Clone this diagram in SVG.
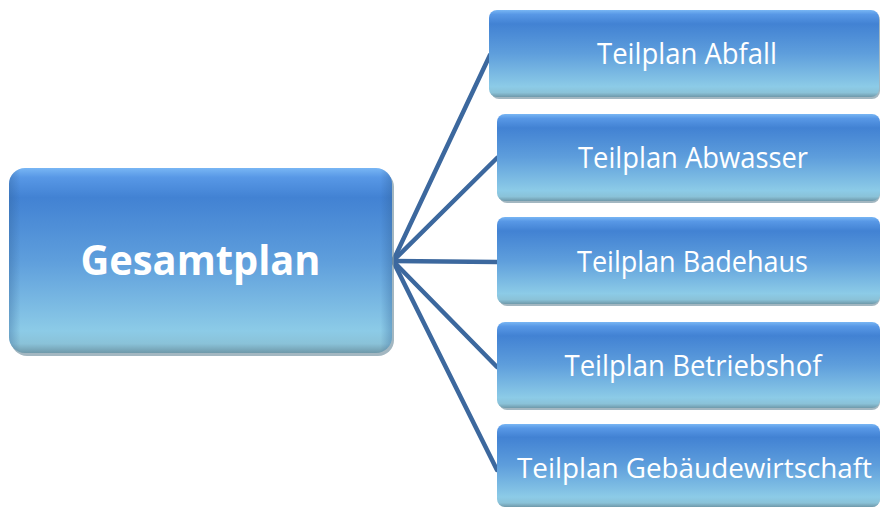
<svg xmlns="http://www.w3.org/2000/svg" width="880" height="507" viewBox="0 0 880 507">
<defs>
<linearGradient id="g" x1="0" y1="0" x2="0" y2="1">
<stop offset="0" stop-color="#78b6f4"/>
<stop offset="0.05" stop-color="#5898e6"/>
<stop offset="0.16" stop-color="#4282d3"/>
<stop offset="0.5" stop-color="#5e9edc"/>
<stop offset="0.88" stop-color="#8ccbe7"/>
<stop offset="0.95" stop-color="#8ac2d8"/>
<stop offset="1" stop-color="#6f99aa"/>
</linearGradient>
<linearGradient id="gl" x1="0" y1="0" x2="1" y2="0">
<stop offset="0" stop-color="#2f5f95" stop-opacity="0.35"/>
<stop offset="0.03" stop-color="#2f5f95" stop-opacity="0"/>
<stop offset="0.97" stop-color="#2f5f95" stop-opacity="0"/>
<stop offset="1" stop-color="#2f5f95" stop-opacity="0.35"/>
</linearGradient>
</defs>
<style>
.box{fill:url(#g);}
.edge{fill:url(#gl);}
.sh{fill:#7c98a6;opacity:0.7;}
.lbl{font-family:"Open Sans","Liberation Sans",sans-serif;fill:#ffffff;text-anchor:middle;}
.big{font-size:42px;font-weight:bold;}
.sm{font-size:29px;}
.con{stroke:#3c689e;stroke-width:4.5;fill:none;stroke-linecap:round;}
</style>
<g id="connectors">
<line class="con" x1="393" y1="261" x2="490" y2="55"/>
<line class="con" x1="393" y1="261" x2="497" y2="158"/>
<line class="con" x1="393" y1="261" x2="497" y2="262"/>
<line class="con" x1="393" y1="261" x2="497" y2="367"/>
<line class="con" x1="393" y1="261" x2="497" y2="470"/>
</g>
<g id="gesamtplan">
<rect class="sh" x="11" y="171" width="383" height="185" rx="16"/>
<rect class="box" x="9" y="168" width="383" height="185" rx="16"/>
<rect class="edge" x="9" y="168" width="383" height="185" rx="16"/>
<text class="lbl big" x="200.5" y="275" textLength="240" lengthAdjust="spacingAndGlyphs">Gesamtplan</text>
</g>
<g id="abfall">
<rect class="sh" x="491" y="12" width="389" height="87" rx="8"/>
<rect class="box" x="489" y="10" width="390" height="87" rx="8"/>
<text class="lbl sm" x="687" y="64" textLength="180" lengthAdjust="spacingAndGlyphs">Teilplan Abfall</text>
</g>
<g id="abwasser">
<rect class="sh" x="499" y="116" width="381" height="87" rx="8"/>
<rect class="box" x="497" y="114" width="383" height="87" rx="8"/>
<text class="lbl sm" x="693" y="168" textLength="230" lengthAdjust="spacingAndGlyphs">Teilplan Abwasser</text>
</g>
<g id="badehaus">
<rect class="sh" x="499" y="219" width="381" height="87" rx="8"/>
<rect class="box" x="497" y="217" width="383" height="87" rx="8"/>
<text class="lbl sm" x="692.5" y="272" textLength="231" lengthAdjust="spacingAndGlyphs">Teilplan Badehaus</text>
</g>
<g id="betriebshof">
<rect class="sh" x="499" y="324" width="381" height="86" rx="8"/>
<rect class="box" x="497" y="322" width="383" height="86" rx="8"/>
<text class="lbl sm" x="693" y="376" textLength="257" lengthAdjust="spacingAndGlyphs">Teilplan Betriebshof</text>
</g>
<g id="gebaeudewirtschaft">
<rect class="sh" x="499" y="426" width="381" height="81" rx="8"/>
<rect class="box" x="497" y="424" width="383" height="83" rx="8"/>
<text class="lbl" style="font-size:26.5px" x="694.5" y="478" textLength="355" lengthAdjust="spacingAndGlyphs">Teilplan Gebäudewirtschaft</text>
</g>
</svg>
